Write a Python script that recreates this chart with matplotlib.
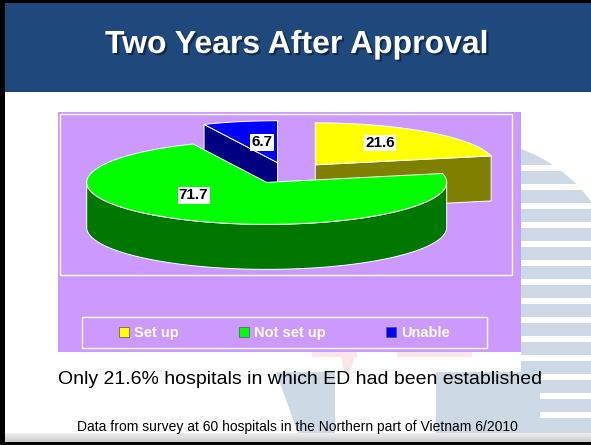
import numpy as np
import matplotlib
matplotlib.use('Agg')
import matplotlib.pyplot as plt
import matplotlib.patheffects as pe
from matplotlib.patches import Rectangle, Polygon, Circle, Patch

# ── data ─────────────────────────────────────────
labels = ['Set up', 'Not set up', 'Unable']
values = [21.6, 71.7, 6.7]
top_colors = ['#FFFF00', '#00FF00', '#0000FF']
side_colors = ['#808000', '#007800', '#000080']

title = 'Two Years After Approval'
subtitle = 'Only 21.6% hospitals in which ED had been established'
footer = 'Data from survey at 60 hospitals in the Northern part of Vietnam 6/2010'

plt.rcParams['font.family'] = ['Liberation Sans', 'DejaVu Sans']

W, H = 591, 445
fig = plt.figure(figsize=(W / 100, H / 100), dpi=100)
ax = fig.add_axes([0, 0, 1, 1])
ax.set_xlim(0, W)
ax.set_ylim(H, 0)
ax.axis('off')

# ── slide background / watermark ─────────────────
wm = '#CDDAE6'
ax.add_patch(Rectangle((0, 0), W, H, fc='white', ec='none', zorder=0))
clip = Rectangle((521, 0), 80, H, transform=ax.transData)
ring = Circle((470, 290), 150, fc=wm, ec='none', zorder=1)
ax.add_patch(ring)
ring.set_clip_path(clip)
ax.add_patch(Rectangle((436, 372), 160, 61, fc=wm, ec='none', zorder=1))
ax.add_patch(Polygon([(276, 372), (335, 372), (335, 433), (298, 433)], fc=wm, ec='none', zorder=1))
for y in np.arange(168, 433, 19):
    x0 = 521 if y < 372 else 540
    ax.add_patch(Rectangle((x0, y - 3), 80, 6, fc='white', ec='none', zorder=1.5))
pink = '#FBE6E9'
ax.add_patch(Rectangle((312, 350), 45, 7, fc=pink, ec='none', zorder=1))
ax.add_patch(Polygon([(340, 350), (357, 350), (350, 372), (344, 372)], fc=pink, ec='none', zorder=1))
ax.add_patch(Rectangle((397, 350), 75, 7, fc=pink, ec='none', zorder=1))

# header band + frame
ax.add_patch(Rectangle((0, 3), W, 89, fc='#1F497D', ec='none', zorder=2))
ax.add_patch(Rectangle((0, 0), W, 3, fc='black', ec='none', zorder=2))
ax.add_patch(Rectangle((0, 0), 5, H, fc='black', ec='none', zorder=2))
for i, g in enumerate(np.linspace(0.93, 0.80, 9)):
    ax.add_patch(Rectangle((5, 433 + i), W, 1, fc=str(g), ec='none', zorder=2))
ax.add_patch(Rectangle((0, 442), W, 3, fc='black', ec='none', zorder=2))

ax.text(297, 53, title, color='white', fontsize=23, fontweight='bold',
        ha='center', va='baseline', zorder=4,
        path_effects=[pe.withSimplePatchShadow(offset=(1.5, -1.5),
                                               shadow_rgbFace='#0E2240', alpha=0.8)])

# chart area
ax.add_patch(Rectangle((58, 112), 463, 240, fc='#CC99FF', ec='none', zorder=2))
ax.add_patch(Rectangle((60, 114), 452, 161, fc='none', ec='white', lw=1, zorder=3))

# ── 3D pie ───────────────────────────────────────
cx, cy = 287, 173
rx, ry, depth = 180, 42, 45
explode = 0.25

cum = np.concatenate([[0], np.cumsum(values)]) / np.sum(values) * 360
slices = []
for i, v in enumerate(values):
    a = np.radians(90 - cum[i + 1])
    b = np.radians(90 - cum[i])
    mid = (a + b) / 2
    ox = cx + explode * rx * np.cos(mid)
    oy = cy - explode * ry * np.sin(mid)
    slices.append((i, a, b, mid, ox, oy))


def pt(t, ox, oy, z=0):
    return (ox + rx * np.cos(t), oy - ry * np.sin(t) + z * depth)


ekw = dict(ec='white', lw=0.7, joinstyle='round')
for i, a, b, mid, ox, oy in sorted(slices, key=lambda s: -np.sin(s[3])):
    # radial cut faces
    for t, nrm in ((a, a - np.pi / 2), (b, b + np.pi / 2)):
        if np.sin(nrm) < -1e-6:
            face = [(ox, oy), pt(t, ox, oy), pt(t, ox, oy, 1), (ox, oy + depth)]
            ax.add_patch(Polygon(face, fc=side_colors[i], zorder=5, **ekw))
    # outer wall (front half only)
    ts = np.linspace(a, b, 300)
    front = np.sin(ts) <= 0
    if front.any():
        idx = np.where(front)[0]
        runs = np.split(idx, np.where(np.diff(idx) > 1)[0] + 1)
        for r in runs:
            tt = ts[r]
            wall = [pt(t, ox, oy) for t in tt] + [pt(t, ox, oy, 1) for t in tt[::-1]]
            ax.add_patch(Polygon(wall, fc=side_colors[i], zorder=5, **ekw))
    # top
    top = [(ox, oy)] + [pt(t, ox, oy) for t in np.linspace(a, b, 300)]
    ax.add_patch(Polygon(top, fc=top_colors[i], zorder=5, **ekw))

# data labels
label_r = [0.63, 0.51, 0.49]
label_da = [4, -26, -2]
for i, a, b, mid, ox, oy in slices:
    t = mid + np.radians(label_da[i])
    lx = ox + label_r[i] * rx * np.cos(t)
    ly = oy - label_r[i] * ry * np.sin(t)
    ax.text(lx, ly, '%.1f' % values[i], ha='center', va='center', fontsize=11,
            fontweight='bold', color='black', zorder=6,
            bbox=dict(boxstyle='square,pad=0.08', fc='white', ec='none'))

# legend
ax.add_patch(Rectangle((82, 317), 405, 31, fc='none', ec='white', lw=1, zorder=3))
handles = [Patch(facecolor=c, edgecolor='#555555', lw=0.5) for c in top_colors]
ax.legend(handles, labels, loc='center', bbox_to_anchor=(284.5, 333),
          bbox_transform=ax.transData, ncol=3, frameon=False,
          prop={'weight': 'bold', 'size': 10.5}, labelcolor='white',
          handlelength=0.7, handleheight=0.7, handletextpad=0.35,
          columnspacing=4.1, borderpad=0)

# captions
ax.text(300, 383.5, subtitle, fontsize=14, ha='center', va='baseline', color='black', zorder=4)
ax.text(297, 431, footer, fontsize=10, ha='center', va='baseline', color='black', zorder=4)

fig.savefig('out.png', dpi=100)
